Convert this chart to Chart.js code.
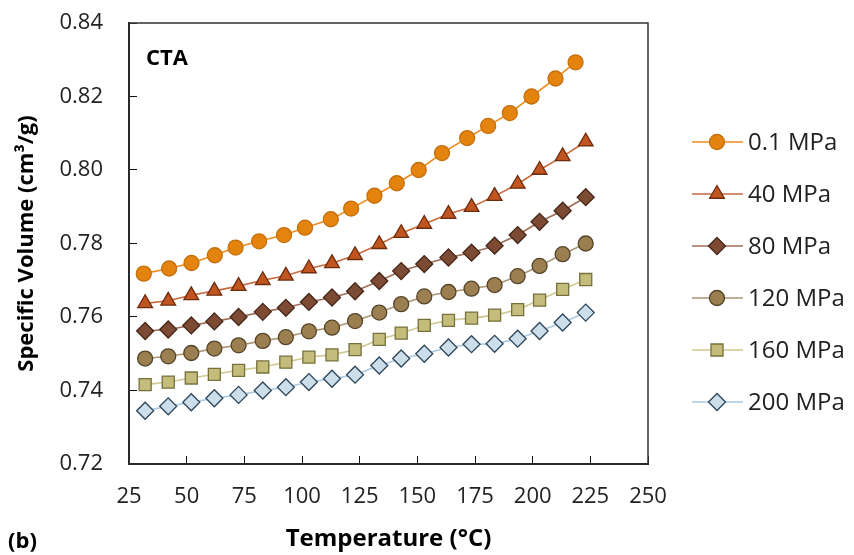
<!DOCTYPE html>
<html>
<head>
<meta charset="utf-8">
<script src="https://cdn.jsdelivr.net/npm/chart.js@4"></script>
<style>
  html, body { margin: 0; padding: 0; background: #fff; }
  #wrap { width: 854px; height: 555px; }
</style>
</head>
<body>
<div id="wrap"><canvas id="pvtChart" width="854" height="555"></canvas></div>
<script>
// temperatures (°C) at which the specific volume was measured
const temps = [32, 42, 52, 62, 72.5, 83, 93, 103, 113, 123, 133.5, 143, 153, 163.5, 173.5, 183.5, 193.5, 203, 213, 223];
const tempsAtm = [31.4, 42.4, 52.1, 62.2, 71.2, 81.4, 92.2, 101.3, 112.5, 121.3, 131.4, 141.1, 150.6, 160.7, 171.6, 180.7, 190.1, 199.5, 209.9, 218.6];

const pressures = ["0.1 MPa", "40 MPa", "80 MPa", "120 MPa", "160 MPa", "200 MPa"];

// specific volume (cm3/g) per pressure
const v01 = [0.7718, 0.7732, 0.7747, 0.7768, 0.7789, 0.7806, 0.7823, 0.7843, 0.7866, 0.7895, 0.7930, 0.7964, 0.8000, 0.8046, 0.8087, 0.8120, 0.8155, 0.8200, 0.8249, 0.8293];
const v40 = [0.7637, 0.7644, 0.7659, 0.7671, 0.7684, 0.7700, 0.7712, 0.7732, 0.7746, 0.7768, 0.7798, 0.7828, 0.7853, 0.7880, 0.7899, 0.7929, 0.7962, 0.8000, 0.8037, 0.8077];
const v80 = [0.7562, 0.7566, 0.7577, 0.7588, 0.7600, 0.7614, 0.7625, 0.7641, 0.7653, 0.7670, 0.7698, 0.7725, 0.7744, 0.7762, 0.7775, 0.7794, 0.7823, 0.7859, 0.7889, 0.7926];
const v120 = [0.7487, 0.7493, 0.7502, 0.7514, 0.7523, 0.7535, 0.7545, 0.7561, 0.7571, 0.7589, 0.7612, 0.7635, 0.7656, 0.7668, 0.7677, 0.7687, 0.7711, 0.7739, 0.7771, 0.7800];
const v160 = [0.7416, 0.7423, 0.7434, 0.7444, 0.7455, 0.7464, 0.7477, 0.7491, 0.7497, 0.7511, 0.7539, 0.7556, 0.7577, 0.7591, 0.7597, 0.7605, 0.7620, 0.7646, 0.7675, 0.7702];
const v200 = [0.7345, 0.7357, 0.7368, 0.7379, 0.7388, 0.7400, 0.7409, 0.7423, 0.7432, 0.7443, 0.7468, 0.7487, 0.7500, 0.7517, 0.7526, 0.7527, 0.7541, 0.7562, 0.7585, 0.7612];

const FONT = "'Open Sans', 'DejaVu Sans', sans-serif";

const styles = [
  { line: "#ee8d1e", fill: "#e5830f", border: "#c4700c", shape: "circle", r: 7.5 },
  { line: "#c96a3e", fill: "#c0551f", border: "#6e2c0e", shape: "triangle", r: 8.5 },
  { line: "#9e6c56", fill: "#7d4a33", border: "#45271a", shape: "rectRot", r: 8.5 },
  { line: "#ab9473", fill: "#9b7f50", border: "#554428", shape: "circle", r: 7.5 },
  { line: "#cfc78e", fill: "#c4bc7b", border: "#75703c", shape: "rect", r: 8.5 },
  { line: "#a9c9e2", fill: "#cddeeb", border: "#2d4558", shape: "rectRot", r: 8.5 }
];

const series = [v01, v40, v80, v120, v160, v200];

const datasets = series.map((vals, i) => {
  const xs = i === 0 ? tempsAtm : temps;
  const s = styles[i];
  return {
    label: pressures[i],
    data: vals.map((v, k) => ({ x: xs[k], y: v })),
    borderColor: s.line,
    borderWidth: 1.6,
    pointStyle: s.shape,
    pointRadius: s.r,
    pointHoverRadius: s.r,
    pointBackgroundColor: s.fill,
    pointBorderColor: s.border,
    pointBorderWidth: 1.3,
    tension: 0
  };
});

// box around the plot area
const frame = {
  id: "frame",
  beforeDatasetsDraw(chart) {
    const { ctx, chartArea: a } = chart;
    ctx.save();
    ctx.strokeStyle = "#333";
    ctx.lineWidth = 1.5;
    ctx.strokeRect(a.left, a.top, a.right - a.left, a.bottom - a.top);
    ctx.restore();
  }
};

// legend with line + marker, and the panel labels
const sideLegend = {
  id: "sideLegend",
  afterDraw(chart) {
    const ctx = chart.ctx;
    ctx.save();
    chart.data.datasets.forEach((ds, i) => {
      const y = 142 + i * 52;
      ctx.strokeStyle = ds.borderColor;
      ctx.lineWidth = 1.6;
      ctx.beginPath();
      ctx.moveTo(692, y);
      ctx.lineTo(743, y);
      ctx.stroke();
      ctx.fillStyle = ds.pointBackgroundColor;
      ctx.strokeStyle = ds.pointBorderColor;
      ctx.lineWidth = ds.pointBorderWidth;
      Chart.helpers.drawPoint(ctx, { pointStyle: ds.pointStyle, radius: ds.pointRadius, rotation: 0, borderWidth: ds.pointBorderWidth }, 717, y);
      ctx.fillStyle = "#222";
      ctx.font = "24px " + FONT;
      ctx.textBaseline = "middle";
      ctx.textAlign = "left";
      ctx.fillText(ds.label, 748, y + 1);
    });
    ctx.fillStyle = "#000";
    ctx.font = "bold 22px " + FONT;
    ctx.textBaseline = "middle";
    ctx.fillText("CTA", 146, 59);
    ctx.fillText("(b)", 8, 542);
    ctx.restore();
  }
};

new Chart(document.getElementById("pvtChart"), {
  type: "line",
  data: { datasets },
  options: {
    responsive: false,
    devicePixelRatio: 1,
    animation: false,
    layout: { padding: { left: 0, top: 23, right: 206, bottom: 0 } },
    plugins: { legend: { display: false }, tooltip: { enabled: false } },
    scales: {
      x: {
        type: "linear",
        min: 25,
        max: 250,
        afterFit(scale) { scale.height = 91; },
        border: { display: true, color: "#111", width: 2 },
        grid: { drawOnChartArea: false, tickLength: -8, color: "#111", lineWidth: 1 },
        ticks: { stepSize: 25, padding: 28, color: "#222", font: { family: FONT, size: 22 } },
        title: {
          display: true,
          text: "Temperature (°C)",
          color: "#000",
          font: { family: FONT, size: 24, weight: "bold" },
          padding: { top: 0, bottom: 1 }
        }
      },
      y: {
        min: 0.72,
        max: 0.84,
        afterFit(scale) {
          scale.width = 129;
          scale.paddingTop = 0;
          scale.paddingBottom = 0;
        },
        border: { display: true, color: "#111", width: 2 },
        grid: { drawOnChartArea: false, tickLength: -8, color: "#111", lineWidth: 1 },
        ticks: {
          stepSize: 0.02,
          padding: 34,
          color: "#222",
          font: { family: FONT, size: 22 },
          callback: (v) => v.toFixed(2)
        },
        title: {
          display: true,
          text: "Specific Volume (cm³/g)",
          color: "#000",
          font: { family: FONT, size: 22, weight: "bold" },
          padding: { top: 14, bottom: 0 }
        }
      }
    }
  },
  plugins: [frame, sideLegend]
});
</script>
</body>
</html>
